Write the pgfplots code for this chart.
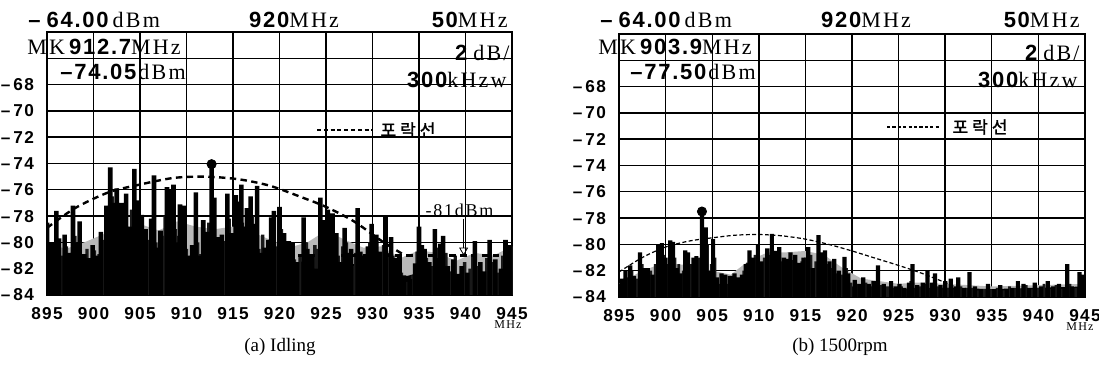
\documentclass[border=0pt]{standalone}
\usepackage{fontspec}
\setmainfont{Liberation Serif}
\setsansfont{Liberation Sans}
\newfontfamily\kr{Noto Sans CJK KR}[FakeBold=1.5]
\newfontfamily\bsf{Liberation Sans}[LetterSpace=8]
\newfontfamily\ssp{Liberation Serif}[LetterSpace=10]
\usepackage{pgfplots}
\pgfplotsset{compat=1.18}
\usetikzlibrary{arrows.meta}
\newcommand{\nb}[1]{{\bsf\bfseries\fontsize{11}{12}\selectfont #1}}
\newcommand{\un}[1]{{\ssp\fontsize{11}{12}\selectfont #1}}
\pgfplotsset{spec/.style={
  scale only axis, width=232.5pt, height=131.5pt, anchor=south west,
  xmin=895, xmax=945, ymin=0, ymax=20,
  y filter/.expression={y+84},
  xtick={895,900,...,945},
  xticklabels={895,900,905,910,915,920,925,930,935,940,945},
  ytick={0,2,...,20},
  yticklabels={–\,84,–\,82,–\,80,–\,78,–\,76,–\,74,–\,72,–\,70,–\,68,{},{}},
  grid=major, major grid style={black, line width=0.7pt},
  axis line style={black, line width=0.9pt},
  major tick length=0pt,
  tick label style={font=\bsf\bfseries\fontsize{8.6}{9}\selectfont},
  xticklabel style={yshift=-2.5pt},
  yticklabel style={xshift=-3pt},
}}
\begin{document}
\begin{tikzpicture}
\useasboundingbox (0,0) rectangle (549.5pt,183.5pt);
% ---------------- (a) Idling ----------------
\begin{axis}[spec, at={(23.5pt,36pt)}]
\addplot[fill=gray!55, draw=none] coordinates {(895,-80.0)(897,-80.5)(899,-80.0)(901,-79.4)(903,-79.0)(905,-78.6)(907,-79.1)(909,-78.4)(911,-78.8)(913,-79.0)(915,-78.8)(917,-79.2)(919,-79.8)(921,-80.4)(923,-80.0)(925,-79.1)(927,-79.8)(929,-80.4)(931,-80.3)(933,-81.2)(935,-80.6)(937,-80.8)(939,-81.4)(941,-80.8)(943,-81.0)(945,-80.3)} \closedcycle;
\addplot[fill=black, draw=none] coordinates {(895,-81.4)(897,-81.1)(899,-81.6)(901,-81.0)(903,-80.7)(905,-80.9)(907,-81.2)(909,-81.0)(911,-81.4)(913,-80.9)(915,-81.1)(917,-81.2)(919,-81.4)(921,-81.6)(923,-81.4)(925,-81.2)(927,-81.7)(929,-81.6)(931,-81.9)(933,-82.7)(935,-82.3)(937,-82.6)(939,-82.8)(941,-82.5)(943,-82.6)(945,-82.2)} \closedcycle;
\addplot[ybar, bar width=1.7pt, bar shift=0pt, fill=black!90, draw=none] coordinates {
(895.2,-81.5)(895.8,-80.8)(896.6,-81.0)(897.1,-80.3)(897.5,-81.2)(898.0,-79.5)(898.8,-81.5)(899.3,-80.5)(899.7,-81.8)(900.1,-80.6)(900.6,-80.9)(901.1,-79.8)(901.6,-78.5)(902.0,-76.5)(902.8,-78.0)(903.2,-77.8)(903.7,-79.0)(904.1,-77.5)(904.6,-78.5)(905.0,-79.3)(905.4,-80.1)(905.9,-79.8)(906.7,-80.0)(907.0,-81.0)(907.5,-79.5)(907.7,-78.0)(908.1,-77.5)(908.8,-79.0)(909.1,-79.5)(909.6,-80.8)(910.0,-80.5)(910.8,-81.3)(911.2,-80.0)(911.6,-80.9)(912.0,-80.3)(912.4,-78.5)(912.9,-79.0)(913.2,-80.3)(913.6,-80.8)(914.1,-79.9)(914.6,-78.2)(915.0,-80.5)(915.5,-79.0)(916.0,-78.5)(916.7,-79.6)(917.1,-78.0)(917.5,-79.2)(917.8,-80.5)(918.2,-79.4)(918.6,-80.9)(919.0,-80.2)(919.7,-80.3)(920.2,-79.0)(920.7,-80.8)(921.2,-81.0)(921.6,-81.3)(922.2,-80.9)(922.9,-80.0)(923.2,-81.8)(923.8,-80.2)(924.2,-80.5)(924.6,-79.5)(925.0,-78.9)(925.4,-79.2)(925.9,-80.0)(926.3,-81.0)(926.8,-80.3)(927.2,-80.0)(927.9,-81.8)(928.2,-80.8)(928.9,-81.9)(929.2,-80.9)(929.7,-80.0)(930.1,-80.5)(930.6,-81.0)(931.0,-81.3)(931.2,-80.2)(931.7,-80.8)(932.2,-81.0)(932.7,-81.6)(933.1,-82.3)(933.7,-83.0)(934.3,-82.5)(934.8,-80.7)(935.8,-81.2)(936.4,-81.8)(936.9,-80.4)(937.9,-80.8)(938.4,-82.2)(938.9,-81.0)(939.4,-82.5)(939.9,-81.5)(940.5,-82.0)(940.8,-81.0)(941.3,-81.8)(941.8,-82.6)(942.3,-81.2)(942.9,-81.5)(943.5,-82.3)(944.0,-81.0)(944.6,-81.0)};
\addplot[ybar, bar width=2.3pt, bar shift=0pt, fill=black, draw=none] coordinates {
(895.0,-78.5)(895.5,-80.0)(896.0,-77.6)(896.3,-79.7)(896.9,-79.4)(897.3,-80.8)(897.8,-77.2)(898.2,-80.0)(898.5,-78.4)(899.0,-80.9)(899.5,-81.2)(899.9,-80.2)(900.3,-81.0)(900.8,-79.2)(901.4,-77.2)(901.8,-74.3)(902.2,-77.0)(902.5,-75.9)(903.0,-77.0)(903.5,-76.3)(903.9,-78.8)(904.4,-74.4)(904.8,-76.8)(905.2,-77.9)(905.6,-79.0)(906.2,-78.2)(906.5,-74.9)(906.9,-80.4)(907.2,-79.1)(907.9,-75.8)(908.3,-76.0)(908.6,-75.6)(909.0,-80.0)(909.3,-77.1)(909.8,-77.2)(910.3,-81.0)(910.6,-80.2)(911.0,-76.2)(911.4,-81.0)(911.8,-78.3)(912.2,-79.2)(912.7,-74.05)(913.0,-76.6)(913.4,-79.6)(913.8,-79.4)(914.4,-76.3)(914.8,-79.3)(915.3,-76.4)(915.6,-76.9)(915.9,-75.6)(916.2,-78.8)(916.5,-77.4)(916.9,-76.5)(917.3,-78.6)(917.6,-75.7)(918.0,-80.8)(918.4,-80.4)(918.8,-79.8)(919.1,-78.1)(919.4,-77.6)(920.0,-77.3)(920.5,-79.3)(921.0,-79.9)(921.4,-80.0)(921.9,-81.5)(922.6,-78.1)(923.0,-80.5)(923.5,-81.0)(924.0,-82.0)(924.4,-76.6)(924.8,-78.3)(925.2,-77.5)(925.5,-78.0)(925.7,-77.8)(926.1,-79.3)(926.5,-81.5)(927.0,-78.9)(927.4,-80.8)(927.7,-80.5)(928.4,-77.4)(928.7,-80.7)(929.0,-81.0)(929.5,-80.3)(929.9,-78.6)(930.4,-79.4)(930.8,-80.7)(931.4,-78.0)(932.0,-79.6)(932.4,-81.2)(932.9,-80.9)(933.4,-82.5)(934.0,-82.8)(934.6,-81.6)(935.0,-78.8)(935.3,-80.2)(935.6,-80.5)(936.1,-81.5)(936.7,-79.0)(937.0,-81.2)(937.3,-80.1)(937.6,-79.5)(938.1,-81.8)(938.7,-81.3)(939.1,-82.4)(939.6,-81.8)(940.2,-82.3)(941.0,-79.9)(941.6,-81.5)(942.0,-82.2)(942.6,-79.8)(943.2,-81.3)(943.8,-82.0)(944.3,-79.8)(944.8,-80.2)};
\addplot[black, line width=1.2pt, dash pattern=on 3.2pt off 2.2pt, smooth] coordinates {(895,-78.9)(898,-77.4)(901.6,-76.2)(905,-75.6)(908.6,-75.1)(912,-75.0)(915.6,-75.2)(919,-75.7)(922.5,-76.6)(925,-77.3)(928,-78.4)(931,-79.9)(933.5,-81.0)};
\addplot[black, line width=1.2pt, dash pattern=on 3.2pt off 2.2pt] coordinates {(922,-81)(945,-81)};
\addplot[only marks, mark=*, mark size=2.3pt, black] coordinates {(912.7,-74.05)};
\draw[-{Triangle[open,length=4pt,width=4.5pt]}, line width=0.4pt] (axis cs:939.8,5.8) -- (axis cs:939.8,3.0);
\end{axis}
% ---------------- (b) 1500rpm ----------------
\begin{axis}[spec, at={(309.5pt,35pt)}, width=233pt]
\addplot[fill=gray!55, draw=none] coordinates {(895,-83.0)(897,-82.2)(899,-81.6)(901,-81.5)(903,-81.6)(905,-82.0)(907,-82.3)(909,-81.2)(911,-80.6)(913,-80.6)(915,-80.5)(917,-80.8)(919,-81.8)(921,-82.6)(923,-82.8)(925,-83.0)(927,-82.9)(930,-83.0)(935,-83.2)(940,-83.1)(945,-83.0)} \closedcycle;
\addplot[fill=black, draw=none] coordinates {(895,-83.2)(900,-83.0)(905,-83.1)(910,-82.9)(915,-82.9)(920,-83.2)(925,-83.4)(930,-83.3)(935,-83.4)(940,-83.3)(945,-83.2)} \closedcycle;
\addplot[ybar, bar width=1.4pt, bar shift=0pt, fill=black!90, draw=none] coordinates {
(895.5,-83.0)(895.9,-82.5)(896.4,-82.0)(896.9,-82.6)(897.5,-81.5)(897.9,-82.6)(898.4,-82.0)(898.9,-81.5)(899.4,-81.0)(899.8,-80.8)(900.2,-81.5)(900.65,-80.5)(901.0,-81.0)(901.4,-81.5)(901.9,-82.0)(902.2,-81.0)(902.7,-81.5)(903.1,-81.8)(903.6,-81.0)(904.1,-80.5)(904.5,-80.0)(904.9,-81.5)(905.3,-81.0)(905.8,-83.0)(906.2,-82.8)(906.7,-83.0)(907.1,-82.8)(907.6,-82.9)(908.0,-82.9)(908.4,-82.0)(908.8,-81.4)(909.2,-81.8)(909.6,-80.8)(910.1,-81.5)(910.6,-81.0)(911.1,-80.8)(911.6,-80.5)(912.0,-81.0)(912.4,-81.3)(912.9,-81.6)(913.6,-81.2)(914.1,-81.6)(914.6,-81.3)(915.0,-81.0)(915.6,-80.8)(916.1,-81.3)(916.6,-81.0)(917.3,-81.5)(917.9,-81.8)(918.4,-82.2)(918.9,-82.3)(919.4,-81.8)(919.9,-82.9)(920.5,-83.0)(921.0,-83.1)(921.5,-82.9)(922.0,-83.2)(922.6,-82.9)(923.1,-83.1)(923.8,-83.2)(924.5,-83.3)(925.3,-83.2)(925.9,-83.4)(926.3,-82.8)(926.8,-83.3)(927.3,-83.2)(927.9,-83.0)(928.4,-83.3)(929.2,-83.2)(929.8,-83.3)(930.3,-83.3)(930.9,-83.4)(931.7,-83.2)(932.3,-83.3)(932.9,-83.3)(933.5,-83.5)(934.2,-83.4)(934.9,-83.4)(935.6,-83.3)(936.3,-83.5)(936.9,-83.2)(937.5,-83.3)(938.1,-83.4)(938.7,-83.1)(939.3,-83.4)(940.0,-83.3)(940.6,-83.0)(941.3,-83.4)(941.9,-83.1)(942.5,-83.4)(943.4,-83.0)(944.0,-83.3)(944.6,-82.8)};
\addplot[ybar, bar width=2.1pt, bar shift=0pt, fill=black, draw=none] coordinates {
(895.0,-83.0)(895.3,-82.6)(895.7,-82.0)(896.2,-81.6)(896.6,-82.4)(897.25,-80.6)(897.7,-81.8)(898.1,-81.8)(898.6,-82.3)(899.2,-80.0)(899.6,-79.9)(900.0,-81.0)(900.5,-79.7)(900.8,-79.8)(901.2,-81.8)(901.6,-82.2)(902.1,-80.45)(902.4,-80.6)(903.0,-81.0)(903.3,-80.9)(903.9,-77.5)(904.3,-78.7)(904.7,-82.0)(905.1,-79.6)(905.5,-82.5)(906.0,-82.2)(906.4,-82.3)(906.9,-82.4)(907.4,-82.2)(907.8,-82.5)(908.2,-82.3)(908.6,-81.5)(909.0,-80.45)(909.4,-81.0)(909.9,-80.0)(910.3,-81.3)(910.9,-80.3)(911.4,-79.2)(911.8,-80.5)(912.2,-80.2)(912.7,-81.0)(913.1,-81.1)(913.4,-80.6)(913.9,-80.8)(914.4,-81.4)(914.8,-81.0)(915.3,-80.2)(915.8,-81.8)(916.4,-79.3)(916.8,-80.6)(917.1,-80.45)(917.6,-81.3)(918.1,-81.1)(918.6,-82.0)(919.2,-80.95)(919.6,-82.2)(920.3,-82.7)(920.8,-83.0)(921.2,-82.5)(921.8,-83.0)(922.3,-82.8)(922.8,-81.6)(923.4,-83.0)(924.2,-82.8)(924.7,-83.2)(925.1,-83.0)(925.6,-83.3)(926.1,-82.9)(926.5,-81.5)(927.0,-83.1)(927.6,-82.9)(928.1,-82.0)(928.6,-82.9)(928.9,-82.2)(929.5,-83.1)(930.0,-82.8)(930.6,-82.6)(931.1,-83.2)(931.4,-82.5)(932.0,-83.3)(932.6,-82.1)(933.2,-83.2)(933.8,-83.4)(934.6,-83.0)(935.3,-83.4)(935.9,-83.1)(936.6,-83.4)(937.2,-83.3)(937.8,-82.8)(938.4,-83.0)(939.0,-83.3)(939.6,-82.9)(940.3,-83.2)(941.0,-82.8)(941.6,-83.2)(942.2,-83.0)(942.8,-83.3)(943.1,-81.5)(943.6,-83.2)(944.4,-82.1)(944.8,-82.3)};
\addplot[black, line width=0.6pt, dash pattern=on 2pt off 1.2pt, smooth] coordinates {(895,-82.1)(897.5,-81.0)(900,-80.2)(902.5,-79.75)(905,-79.5)(907.5,-79.3)(910,-79.25)(912.5,-79.35)(915,-79.6)(917.5,-80.0)(920,-80.5)(922.5,-81.05)(925,-81.6)(927.5,-82.2)(930,-82.9)(931,-83.2)};
\addplot[only marks, mark=*, mark size=2.3pt, black] coordinates {(903.9,-77.5)};
\end{axis}
% ---------------- texts (a) ----------------
\node[anchor=west, inner sep=0] at (14pt,173.5pt) {\nb{–\hspace{3pt}64.00}\hspace{2pt}\un{dBm}};
\node[inner sep=0] at (147pt,173.5pt) {\nb{920}\un{MHz}};
\node[anchor=east, inner sep=0] at (254pt,173.5pt) {\nb{50}\un{MHz}};
\node[anchor=west, inner sep=0] at (13.5pt,160pt) {\un{MK}\hspace{2pt}\nb{912.7}\un{MHz}};
\node[anchor=west, inner sep=0] at (30pt,147.5pt) {\nb{–74.05}\hspace{1pt}\un{dBm}};
\node[anchor=east, inner sep=0] at (255pt,157pt) {\nb{2}\hspace{3pt}\un{dB/}};
\node[anchor=east, inner sep=0] at (253.5pt,143.5pt) {\nb{300}\un{kHzw}};
\draw[black, line width=0.9pt, dash pattern=on 2pt off 1.4pt] (158.5pt,118.5pt) -- (186pt,118.5pt);
\node[inner sep=0] at (204pt,118.5pt) {\kr\fontsize{8.5}{10}\selectfont 포\hspace{2pt}락\hspace{2pt}선};
\node[inner sep=0] at (229.75pt,78.5pt) {\ssp\fontsize{9}{10}\selectfont -81dBm};
\node[inner sep=0] at (254pt,21pt) {\ssp\fontsize{6}{7}\selectfont MHz};
\node[inner sep=0] at (140pt,10pt) {\fontsize{9.5}{10}\selectfont (a) Idling};
% ---------------- texts (b) ----------------
\node[anchor=west, inner sep=0] at (300pt,173.5pt) {\nb{–\hspace{3pt}64.00}\hspace{2pt}\un{dBm}};
\node[inner sep=0] at (433pt,173.5pt) {\nb{920}\un{MHz}};
\node[anchor=east, inner sep=0] at (540pt,173.5pt) {\nb{50}\un{MHz}};
\node[anchor=west, inner sep=0] at (299pt,160pt) {\un{MK}\hspace{2pt}\nb{903.9}\un{MHz}};
\node[anchor=west, inner sep=0] at (315pt,147.5pt) {\nb{–77.50}\hspace{1pt}\un{dBm}};
\node[anchor=east, inner sep=0] at (540pt,157pt) {\nb{2}\hspace{3pt}\un{dB/}};
\node[anchor=east, inner sep=0] at (539pt,143.5pt) {\nb{300}\un{kHzw}};
\draw[black, line width=0.6pt, dash pattern=on 1.6pt off 1.1pt] (443.5pt,120pt) -- (470pt,120pt);
\node[inner sep=0] at (490pt,120pt) {\kr\fontsize{8.5}{10}\selectfont 포\hspace{2pt}락\hspace{2pt}선};
\node[inner sep=0] at (540pt,20pt) {\ssp\fontsize{6}{7}\selectfont MHz};
\node[inner sep=0] at (420pt,10pt) {\fontsize{9.5}{10}\selectfont (b) 1500rpm};
\end{tikzpicture}
\end{document}
